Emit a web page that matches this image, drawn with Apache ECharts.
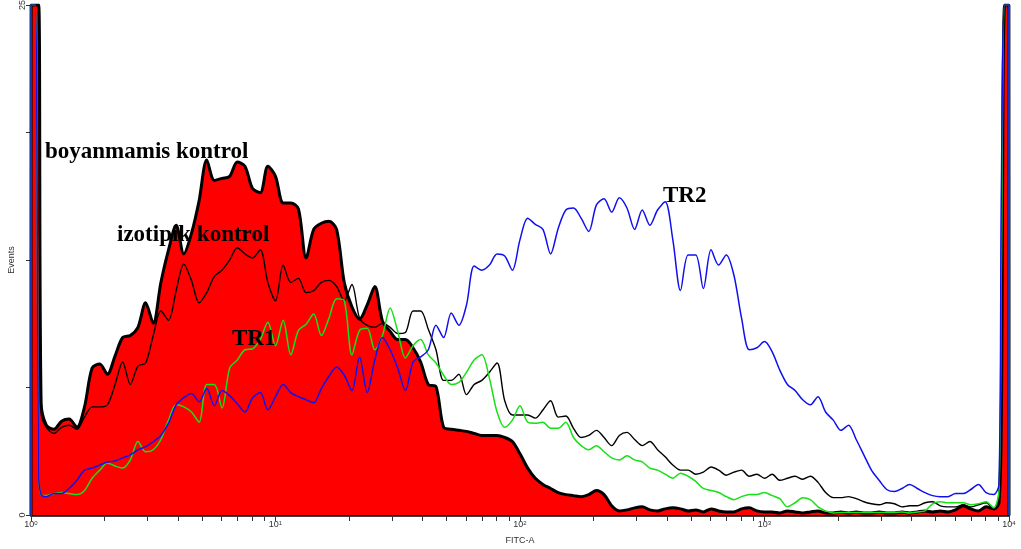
<!DOCTYPE html>
<html>
<head>
<meta charset="utf-8">
<script src="https://cdn.jsdelivr.net/npm/echarts@6/dist/echarts.min.js"></script>
<style>html,body{margin:0;padding:0;background:#fff}#main{width:1021px;height:549px}</style>
</head>
<body>
<div id="main"></div>
<script>
// FITC-A channel values (log axis)
var fitc = [1, 1.001, 1.04, 1.075, 1.1,
  1.155, 1.241, 1.334, 1.433, 1.54, 1.655, 1.778, 1.911, 2.054, 2.207,
  2.371, 2.548, 2.738, 2.943, 3.162, 3.398, 3.652, 3.924, 4.217, 4.532,
  4.87, 5.233, 5.623, 6.043, 6.494, 6.978, 7.499, 8.058, 8.66, 9.306,
  10, 10.75, 11.55, 12.41, 13.34, 14.33, 15.4, 16.55, 17.78, 19.11,
  20.54, 22.07, 23.71, 25.48, 27.38, 29.43, 31.62, 33.98, 36.52, 39.24,
  42.17, 45.32, 48.7, 52.33, 56.23, 60.43, 64.94, 69.78, 74.99, 80.58, 86.6, 93.06,
  100, 107.5, 115.5, 124.1, 133.4, 143.3, 154, 165.5, 177.8, 191.1,
  205.4, 220.7, 237.1, 254.8, 273.8, 294.3, 316.2, 339.8, 365.2, 392.4,
  421.7, 453.2, 487, 523.3, 562.3, 604.3, 649.4, 697.8, 749.9, 805.8, 866, 930.6,
  1000, 1075, 1155, 1241, 1334, 1433, 1540, 1655, 1778, 1911,
  2054, 2207, 2371, 2548, 2738, 2943, 3162, 3398, 3652, 3924,
  4217, 4532, 4870, 5233, 5623, 6043, 6494, 6978, 7499, 8058, 8660,
  9100, 9306, 9600, 9990, 10000];

var boyanmamis = [0, 25, 25, 25, 5.5,
  4.4, 4.2, 4.6, 4.7, 4.3, 5.3, 7.2, 7.4, 6.9, 7.8,
  8.7, 8.8, 9.2, 10.4, 9.4, 11.4, 13, 14.2, 12.8, 13.8,
  15.4, 17.4, 16.4, 16.5, 16.6, 17.3, 17.1, 16, 15.8, 17.1,
  16.6, 15.3, 15.3, 15, 12.6, 14, 14.3, 14.4, 14, 11.4,
  10.2, 9.6, 10.3, 11.2, 9.5, 9, 8.6, 8.6, 8.2, 7.5,
  6.4, 6.3, 4.3, 4.2, 4.15, 4.1, 4, 3.9, 3.9, 3.9,
  3.8, 3.6, 3, 2.3, 1.8, 1.5, 1.3, 1.1, 1, 0.95,
  0.9, 1, 1.2, 1, 0.45, 0.2, 0.25, 0.35, 0.4, 0.25,
  0.2, 0.3, 0.35, 0.3, 0.2, 0.25, 0.15, 0.3, 0.2, 0.15,
  0.15, 0.3, 0.35, 0.2, 0.15, 0.15, 0.1, 0.2, 0.15, 0.1,
  0.15, 0.2, 0.1, 0.1, 0.15, 0.1, 0.15, 0.1, 0.1, 0.15,
  0.1, 0.1, 0.15, 0.1, 0.15, 0.2, 0.15, 0.2, 0.15, 0.25,
  0.45, 0.3, 0.2, 0.4, 0.3,
  0.6, 5, 25, 25, 0];

var izotipik = [0, 25, 25, 25, 5,
  4.3, 4, 4.3, 4.4, 4.2, 4.8, 5.3, 5.3, 5.4, 6.4,
  7.5, 6.4, 7.3, 7.45, 8.8, 10, 9.55, 11, 12.3, 11.5,
  10.4, 10.9, 11.7, 12, 12.5, 13.1, 12.8, 12.6, 13, 11.4,
  10.5, 12.25, 11.4, 11.6, 10.9, 11, 11.4, 11.5, 11.2, 10.5,
  11.3, 9.65, 9.3, 9.2, 9.4, 9.2, 8.9, 8.95, 10, 10,
  9.1, 8.1, 6.6, 6.6, 6.9, 5.9, 6.4, 6.6, 7, 7.45,
  5.6, 4.9, 4.9, 4.9, 4.75, 5.15, 5.6, 4.8, 4.85, 4.25,
  3.8, 3.9, 4.15, 3.8, 3.4, 3.9, 4.05, 3.7, 3.4, 3.6,
  3.2, 2.85, 2.45, 2.2, 2.2, 2, 2.1, 2.35, 2.2, 1.95,
  2.1, 2.2, 1.9, 2, 1.8, 2, 1.7, 1.8, 1.9, 1.75,
  1.9, 1.6, 1.1, 0.85, 0.85, 0.9, 0.8, 0.65, 0.55, 0.5,
  0.6, 0.55, 0.4, 0.45, 0.45, 0.6, 0.65, 0.45, 0.4, 0.4,
  0.5, 0.4, 0.5, 0.6, 0.3,
  1, 8, 25, 25, 0];

var tr1 = [0, 25, 25, 2, 1,
  0.95, 1.05, 1.1, 1.05, 1, 1.2, 1.8, 2.2, 2.55, 2.4,
  2.3, 2.7, 3.6, 3.1, 3.2, 3.7, 4.65, 5.4, 5.3, 5.05,
  4.55, 6.4, 6.4, 5.25, 7.2, 7.6, 8.1, 8.15, 8.6, 9.45,
  8.3, 9.55, 7.85, 9.05, 9.35, 9.85, 8.8, 9.65, 10.6, 10.5,
  7.85, 9.05, 9.15, 8.1, 8.8, 10.15, 9, 7.7, 8.3, 8.6,
  7.85, 7.45, 6.85, 6.4, 6.5, 7, 7.6, 7.85, 6.7, 5.05,
  4.3, 4.65, 5.35, 4.55, 4.5, 4.55, 4.25, 4.25, 4.55, 3.8,
  3.4, 3.2, 3.4, 3.1, 2.8, 2.7, 2.9, 2.7, 2.6, 2.3,
  2.2, 2, 1.8, 2.05, 1.9, 1.65, 1.3, 1.2, 1.1, 0.9,
  0.75, 0.9, 1, 1, 1.1, 0.95, 0.8, 0.4, 0.6, 0.85,
  0.75, 0.4, 0.2, 0.1, 0.12, 0.12, 0.12, 0.12, 0.12, 0.12,
  0.12, 0.12, 0.15, 0.1, 0.15, 0.2, 0.55, 0.65, 0.6, 0.6,
  0.6, 0.5, 0.55, 0.65, 0.35,
  1.2, 12, 25, 25, 0];

var tr2 = [0, 25, 25, 2, 1,
  0.9, 1.05, 1.05, 1.3, 1.7, 2.2, 2.3, 2.45, 2.6, 2.65,
  2.8, 2.95, 3.2, 3.35, 3.6, 3.9, 4.5, 5.4, 5.75, 5.95,
  5.55, 6.2, 5.35, 6.1, 5.85, 5.45, 5.05, 5.75, 6, 5.15,
  5.8, 6.4, 6, 5.8, 5.65, 5.5, 6.2, 6.8, 7.25, 6.85,
  6.1, 7.75, 6, 7.6, 8.7, 8.1, 7.2, 6.1, 7.5, 7.75,
  8.1, 9.3, 8.7, 9.9, 9.3, 10.3, 12.2, 12, 12.25, 12.8,
  12.7, 12, 13.5, 14.55, 14.25, 14, 12.8, 14.05, 14.95, 15.05,
  14.55, 13.9, 15.2, 15.5, 14.85, 15.55, 15.05, 14, 14.95, 14.2,
  14.95, 15.35, 13.5, 11, 12.75, 12.75, 11.1, 13, 12.25, 12.75,
  11.75, 9.65, 8.1, 8.2, 8.5, 8, 7.1, 6.4, 6.1, 5.65,
  5.4, 5.8, 5.05, 4.65, 4.15, 4.4, 3.7, 2.95, 2.2, 1.7,
  1.25, 1.15, 1.3, 1.5, 1.3, 1.1, 0.95, 0.9, 0.9, 1.05,
  1.05, 1.25, 1.5, 1.1, 1,
  1.5, 16, 25, 25, 0];

var xTickValues = [1, 2, 3, 4, 5, 6, 7, 8, 9,
  10, 20, 30, 40, 50, 60, 70, 80, 90,
  100, 200, 300, 400, 500, 600, 700, 800, 900,
  1000, 2000, 3000, 4000, 5000, 6000, 7000, 8000, 9000, 10000];
var xLabelValues = [1, 10, 100, 1000, 10000];
var xLabelExp = ['0', '1', '2', '3', '4'];
var yLabelValues = [0, 25];

function pairs(ys) {
  return fitc.map(function (x, i) { return [x, ys[i]]; });
}

var myChart = echarts.init(document.getElementById('main'));

var option = {
  animation: false,
  backgroundColor: '#fff',
  grid: { left: 31, right: 12, top: 5, bottom: 34, containLabel: false, outerBoundsMode: 'none' },
  xAxis: {
    type: 'log',
    logBase: 10,
    min: 1,
    max: 10000,
    name: 'FITC-A',
    nameLocation: 'middle',
    nameGap: 21,
    nameTextStyle: { fontFamily: 'Liberation Sans', fontSize: 9, color: '#333' },
    axisLine: { lineStyle: { color: '#000', width: 2.5 } },
    axisTick: { customValues: xTickValues, length: 6, lineStyle: { color: '#333' } },
    axisLabel: {
      customValues: xLabelValues,
      margin: 5,
      formatter: function (v) {
        var i = xLabelValues.indexOf(v);
        return '{b|10}{s|' + (i >= 0 ? xLabelExp[i] : '') + '}';
      },
      rich: {
        b: { fontFamily: 'Liberation Sans', fontSize: 9, color: '#333' },
        s: { fontFamily: 'Liberation Sans', fontSize: 6, color: '#333', verticalAlign: 'top' }
      }
    },
    splitLine: { show: false }
  },
  yAxis: {
    type: 'value',
    min: 0,
    max: 25,
    interval: 6.25,
    name: 'Events',
    nameLocation: 'middle',
    nameGap: 15,
    nameMoveOverlap: false,
    nameRotate: 90,
    nameTextStyle: { fontFamily: 'Liberation Sans', fontSize: 9, color: '#333' },
    axisLine: { show: true, lineStyle: { color: '#000', width: 1 } },
    axisTick: { show: true, length: 5, lineStyle: { color: '#333' } },
    axisLabel: {
      customValues: yLabelValues,
      rotate: 90,
      margin: 4,
      fontFamily: 'Liberation Sans',
      fontSize: 9,
      color: '#333'
    },
    splitLine: { show: false }
  },
  graphic: [
    { type: 'text', z: 100, style: { text: 'boyanmamis kontrol', x: 45, y: 152, verticalAlign: 'middle', font: 'bold 23px "Liberation Serif"', fill: '#000' } },
    { type: 'text', z: 100, style: { text: 'izotipik kontrol', x: 117, y: 235, verticalAlign: 'middle', font: 'bold 23px "Liberation Serif"', fill: '#000' } },
    { type: 'text', z: 100, style: { text: 'TR1', x: 232, y: 339, verticalAlign: 'middle', font: 'bold 23px "Liberation Serif"', fill: '#000' } },
    { type: 'text', z: 100, style: { text: 'TR2', x: 663, y: 196, verticalAlign: 'middle', font: 'bold 23px "Liberation Serif"', fill: '#000' } }
  ],
  series: [
    {
      name: 'boyanmamis kontrol', type: 'line', data: pairs(boyanmamis),
      showSymbol: false, smooth: 0.3, z: 2,
      lineStyle: { color: '#000', width: 3 },
      areaStyle: { color: '#ff0000', opacity: 1 }
    },
    {
      name: 'izotipik kontrol', type: 'line', data: pairs(izotipik),
      showSymbol: false, smooth: 0.3, z: 3,
      lineStyle: { color: '#000', width: 1.4 }
    },
    {
      name: 'TR1', type: 'line', data: pairs(tr1),
      showSymbol: false, smooth: 0.3, z: 4,
      lineStyle: { color: '#16e016', width: 1.5 }
    },
    {
      name: 'TR2', type: 'line', data: pairs(tr2),
      showSymbol: false, smooth: 0.3, z: 5,
      lineStyle: { color: '#1010ee', width: 1.5 }
    }
  ]
};

myChart.setOption(option);
</script>
</body>
</html>
